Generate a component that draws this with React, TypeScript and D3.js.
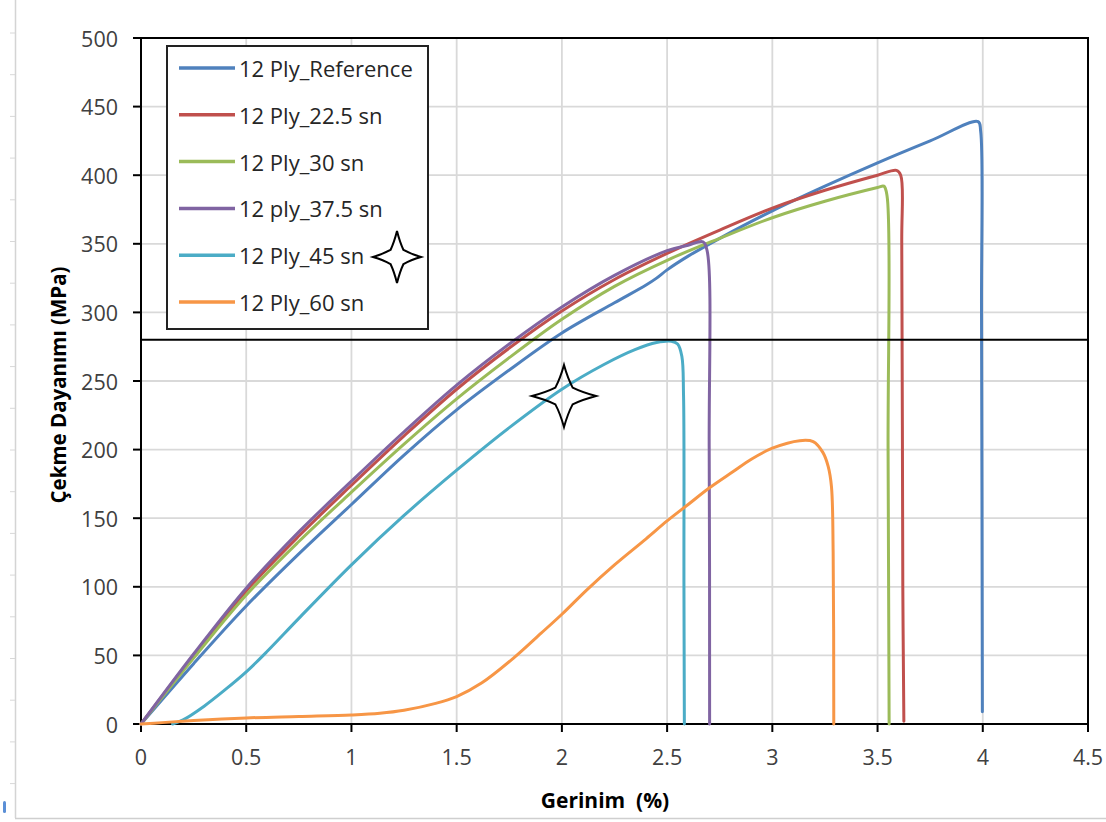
import React from "react";
import * as d3 from "d3";

type P = [number, number];

const seriesNames = ["12 Ply_Reference", "12 Ply_22.5 sn", "12 Ply_30 sn", "12 ply_37.5 sn", "12 Ply_45 sn", "12 Ply_60 sn"];
const seriesColors = ["#4F81BD", "#C0504D", "#9BBB59", "#8064A2", "#4BACC6", "#F79646"];

const refData: P[] = [[0,0],[0.25,44],[0.5,86],[0.75,124],[1,160],[1.25,196],[1.5,229],[1.75,258],[2,285],[2.25,307],[2.4,320],[2.45,325],[2.5,331],[2.6,341],[2.75,354],[3,374],[3.25,392],[3.5,409],[3.75,425],[3.978,439],[3.99,432],[3.994,300],[3.998,9]];
const s225Data: P[] = [[0,0],[0.25,50],[0.5,97],[0.75,137],[1,174],[1.25,210],[1.5,244],[1.75,274],[2,301],[2.25,324],[2.5,343],[2.75,360],[3,376],[3.25,389],[3.5,400],[3.59,403.5],[3.61,400],[3.615,350],[3.62,100],[3.625,2]];
const s30Data: P[] = [[0,0],[0.25,48],[0.5,94],[0.75,133],[1,169],[1.25,204],[1.5,237],[1.75,267],[2,295],[2.25,319],[2.5,338],[2.75,354],[3,369],[3.25,381],[3.5,391],[3.53,392],[3.545,385],[3.55,200],[3.555,0]];
const s375Data: P[] = [[0,0],[0.25,51],[0.5,99],[0.75,140],[1,177],[1.25,213],[1.5,247],[1.75,277],[2,304],[2.25,327],[2.5,345],[2.6,349],[2.67,351.5],[2.69,345],[2.7,200],[2.702,0]];
const s45Data: P[] = [[0.15,0],[0.2,3],[0.3,13],[0.4,25],[0.5,38],[0.6,53],[0.75,77],[1,116],[1.25,152],[1.5,185],[1.75,216],[2,244],[2.2,262],[2.35,273],[2.45,278],[2.52,279],[2.55,277],[2.57,268],[2.578,240],[2.58,100],[2.582,0]];
const s60Data: P[] = [[0,0],[0.1,1],[0.25,2.5],[0.5,4.4],[0.75,5.5],[1,6.6],[1.135,7.8],[1.25,10],[1.4,15],[1.5,20],[1.62,30],[1.77,48],[1.9,66],[2,80],[2.12,98],[2.25,116],[2.4,135],[2.5,148],[2.6,160],[2.7,172],[2.814,184],[2.9,193],[3,201],[3.13,206.5],[3.194,205.8],[3.24,198],[3.265,188],[3.281,173],[3.289,125],[3.292,0]];

const allSeries: P[][] = [refData, s225Data, s30Data, s375Data, s45Data, s60Data];

const xTicks = [0, 0.5, 1, 1.5, 2, 2.5, 3, 3.5, 4, 4.5];
const yTicks = [0, 50, 100, 150, 200, 250, 300, 350, 400, 450, 500];
const refLineValue = 280;

const xTitle = "Gerinim  (%)";
const yTitle = "Çekme Dayanımı (MPa)";

function starPath(cx: number, cy: number, rx: number, ry: number) {
  const k = 0.27;
  const ix = rx * k, iy = ry * k;
  const c = 0.55;
  // slightly concave sides via quadratic curves
  const seg = (x0: number, y0: number, x1: number, y1: number) => {
    const mx = (x0 + x1) / 2, my = (y0 + y1) / 2;
    const qx = mx + (cx - mx) * (1 - c) * 0.25, qy = my + (cy - my) * (1 - c) * 0.25;
    return `Q${qx},${qy} ${x1},${y1}`;
  };
  const pts: [number, number][] = [
    [cx, cy - ry], [cx + ix, cy - iy], [cx + rx, cy], [cx + ix, cy + iy],
    [cx, cy + ry], [cx - ix, cy + iy], [cx - rx, cy], [cx - ix, cy - iy], [cx, cy - ry]
  ];
  let d = `M${pts[0][0]},${pts[0][1]}`;
  for (let i = 1; i < pts.length; i++) d += " " + seg(pts[i - 1][0], pts[i - 1][1], pts[i][0], pts[i][1]);
  return d + " Z";
}

export default function App() {
  const W = 1106, H = 822;
  const x = d3.scaleLinear().domain([0, 4.5]).range([141, 1088]);
  const y = d3.scaleLinear().domain([0, 500]).range([724, 38]);
  const line = d3.line<P>().x(d => x(d[0])).y(d => y(d[1])).curve(d3.curveCatmullRom.alpha(0.5));
  const font = "'Open Sans', sans-serif";
  const rulerTicks = d3.range(33, 818, 41.7);

  return (
    <svg width={W} height={H} style={{ position: "absolute", left: 0, top: 0, background: "#fff" }} fontFamily={font}>
      {/* page decoration */}
      <line x1={15.5} x2={15.5} y1={0} y2={818} stroke="#d4d4d4" strokeWidth={1.5} />
      {rulerTicks.map((t, i) => (
        <line key={"r" + i} x1={10} x2={15} y1={t} y2={t} stroke="#d8d8d8" strokeWidth={1} />
      ))}
      <line x1={15} x2={W} y1={818.5} y2={818.5} stroke="#cfcfcf" strokeWidth={1.5} />
      <rect x={3} y={801} width={3} height={12} fill="#5b8fd6" rx={1.5} />

      {/* grid */}
      {xTicks.map(t => (
        <line key={"gx" + t} x1={x(t)} x2={x(t)} y1={y(500)} y2={y(0)} stroke="#d9d9d9" strokeWidth={1.8} />
      ))}
      {yTicks.map(t => (
        <line key={"gy" + t} x1={x(0)} x2={x(4.5)} y1={y(t)} y2={y(t)} stroke="#d9d9d9" strokeWidth={1.8} />
      ))}

      {/* frame */}
      <rect x={x(0)} y={y(500)} width={x(4.5) - x(0)} height={y(0) - y(500)} fill="none" stroke="#000" strokeWidth={2} />

      {/* ticks */}
      {yTicks.map(t => (
        <g key={"ty" + t}>
          <line x1={x(0) - 8} x2={x(0)} y1={y(t)} y2={y(t)} stroke="#000" strokeWidth={2} />
          <text x={118} y={y(t)} textAnchor="end" dominantBaseline="central" fontSize={21.5} fill="#404040">{t}</text>
        </g>
      ))}
      {xTicks.map(t => (
        <g key={"tx" + t}>
          <line x1={x(t)} x2={x(t)} y1={y(0)} y2={y(0) + 8} stroke="#000" strokeWidth={2} />
          <text x={x(t)} y={756} textAnchor="middle" dominantBaseline="central" fontSize={21.5} fill="#404040">{t}</text>
        </g>
      ))}

      {/* axis titles */}
      <text x={605} y={800} textAnchor="middle" dominantBaseline="central" fontSize={21} fontWeight="bold" fill="#000" style={{ whiteSpace: "pre" }}>{xTitle}</text>
      <text transform={`translate(58,385) rotate(-90)`} textAnchor="middle" dominantBaseline="central" fontSize={20.5} fontWeight="bold" fill="#000">{yTitle}</text>

      {/* series */}
      {allSeries.map((s, i) => (
        <path key={"s" + i} d={line(s) || ""} fill="none" stroke={seriesColors[i]} strokeWidth={3} strokeLinejoin="round" strokeLinecap="round" />
      ))}

      {/* reference line */}
      <line x1={x(0)} x2={x(4.5)} y1={y(refLineValue)} y2={y(refLineValue)} stroke="#000" strokeWidth={2} />

      {/* legend */}
      <rect x={167} y={46} width={261} height={283} fill="#fff" stroke="#222" strokeWidth={2} />
      {seriesNames.map((n, i) => (
        <g key={"l" + i}>
          <line x1={179} x2={235} y1={68 + i * 46.8} y2={68 + i * 46.8} stroke={seriesColors[i]} strokeWidth={3.5} />
          <text x={239} y={68 + i * 46.8} dominantBaseline="central" fontSize={22} fill="#262626">{n}</text>
        </g>
      ))}

      {/* stars */}
      <path d={starPath(397, 257, 24, 26)} fill="none" stroke="#000" strokeWidth={2} strokeLinejoin="miter" />
      <path d={starPath(564, 396, 32, 31)} fill="none" stroke="#000" strokeWidth={2} strokeLinejoin="miter" />
    </svg>
  );
}
